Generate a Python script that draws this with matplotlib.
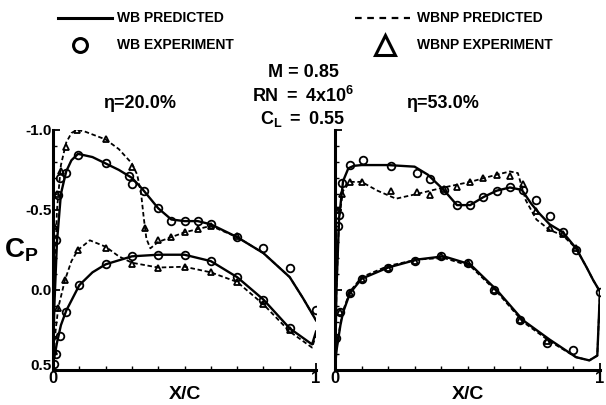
import matplotlib
matplotlib.use("Agg")
import matplotlib.pyplot as plt
from matplotlib.lines import Line2D

plt.rcParams['font.family'] = ['Liberation Sans', 'DejaVu Sans']
plt.rcParams['font.weight'] = 'bold'
plt.rcParams['mathtext.fontset'] = 'custom'
plt.rcParams['mathtext.rm'] = 'Liberation Sans:bold'
plt.rcParams['mathtext.it'] = 'Liberation Sans:bold'
plt.rcParams['mathtext.bf'] = 'Liberation Sans:bold'

# ---- eta = 20.0% ----
wb20_up_x = [0.0, 0.005, 0.015, 0.03, 0.05, 0.07, 0.095, 0.15, 0.2, 0.25, 0.3, 0.34, 0.4, 0.45, 0.5, 0.55, 0.6, 0.7, 0.8, 0.9, 0.95, 1.0]
wb20_up_cp = [0.45, 0.1, -0.3, -0.6, -0.74, -0.81, -0.85, -0.83, -0.79, -0.75, -0.70, -0.63, -0.51, -0.44, -0.43, -0.43, -0.41, -0.33, -0.23, -0.08, 0.05, 0.19]
wb20_lo_x = [0.0, 0.005, 0.015, 0.03, 0.05, 0.1, 0.15, 0.2, 0.3, 0.4, 0.5, 0.6, 0.7, 0.8, 0.9, 0.985, 1.0]
wb20_lo_cp = [0.45, 0.42, 0.33, 0.22, 0.13, -0.03, -0.11, -0.16, -0.21, -0.22, -0.22, -0.18, -0.08, 0.06, 0.24, 0.34, 0.26]

np20_up_x = [0.0, 0.005, 0.015, 0.03, 0.05, 0.07, 0.09, 0.12, 0.2, 0.25, 0.3, 0.32, 0.335, 0.345, 0.355, 0.37, 0.4, 0.45, 0.5, 0.55, 0.6, 0.7, 0.8, 0.9, 0.95, 1.0]
np20_up_cp = [0.45, 0.0, -0.5, -0.78, -0.92, -0.98, -1.0, -0.99, -0.94, -0.88, -0.79, -0.72, -0.6, -0.45, -0.32, -0.26, -0.30, -0.33, -0.36, -0.38, -0.40, -0.33, -0.23, -0.08, 0.05, 0.19]
np20_lo_x = [0.0, 0.01, 0.02, 0.045, 0.07, 0.095, 0.14, 0.2, 0.25, 0.3, 0.4, 0.5, 0.6, 0.7, 0.8, 0.9, 0.985, 1.0]
np20_lo_cp = [0.45, 0.25, 0.11, -0.06, -0.18, -0.25, -0.31, -0.27, -0.21, -0.17, -0.14, -0.145, -0.11, -0.05, 0.09, 0.26, 0.36, 0.28]

wb20_exp_x = [0.012, 0.02, 0.025, 0.05, 0.095, 0.2, 0.29, 0.30, 0.345, 0.4, 0.45, 0.5, 0.55, 0.6, 0.7, 0.8, 0.9, 1.0,
              0.005, 0.012, 0.027, 0.05, 0.1, 0.2, 0.3, 0.4, 0.5, 0.6, 0.7, 0.8, 0.9]
wb20_exp_cp = [-0.31, -0.59, -0.70, -0.73, -0.84, -0.79, -0.71, -0.66, -0.62, -0.51, -0.43, -0.43, -0.43, -0.41, -0.33, -0.26, -0.14, 0.125,
               0.46, 0.40, 0.29, 0.14, -0.03, -0.16, -0.21, -0.22, -0.22, -0.18, -0.08, 0.06, 0.24]
np20_exp_x = [0.005, 0.015, 0.03, 0.05, 0.09, 0.2, 0.3, 0.35, 0.4, 0.45, 0.5, 0.55, 0.6, 0.7,
              0.005, 0.02, 0.045, 0.095, 0.2, 0.3, 0.4, 0.5, 0.6, 0.7, 0.8, 0.9]
np20_exp_cp = [-0.4, -0.6, -0.74, -0.89, -1.0, -0.94, -0.77, -0.39, -0.31, -0.33, -0.36, -0.38, -0.40, -0.34,
               0.38, 0.11, -0.06, -0.25, -0.26, -0.16, -0.14, -0.145, -0.11, -0.05, 0.09, 0.25]

# ---- eta = 53.0% ----
wb53_up_x = [0.0, 0.005, 0.015, 0.03, 0.05, 0.07, 0.1, 0.2, 0.3, 0.35, 0.41, 0.46, 0.51, 0.56, 0.61, 0.66, 0.705, 0.74, 0.77, 0.81, 0.86, 0.91, 0.95, 0.975, 1.0]
wb53_up_cp = [0.48, 0.0, -0.45, -0.68, -0.76, -0.775, -0.78, -0.78, -0.77, -0.72, -0.625, -0.53, -0.53, -0.58, -0.62, -0.64, -0.625, -0.54, -0.48, -0.41, -0.36, -0.26, -0.14, -0.06, 0.01]
wb53_lo_x = [0.0, 0.005, 0.02, 0.03, 0.056, 0.1, 0.2, 0.31, 0.41, 0.51, 0.61, 0.71, 0.81, 0.91, 0.96, 0.99, 1.0]
wb53_lo_cp = [0.48, 0.38, 0.22, 0.14, 0.02, -0.07, -0.14, -0.19, -0.21, -0.16, 0.0, 0.19, 0.31, 0.42, 0.44, 0.41, 0.01]

np53_up_x = [0.0, 0.005, 0.015, 0.03, 0.057, 0.1, 0.16, 0.23, 0.31, 0.41, 0.51, 0.61, 0.66, 0.69, 0.72, 0.76, 0.81, 0.86, 0.91, 0.95, 0.975, 1.0]
np53_up_cp = [0.48, 0.0, -0.45, -0.62, -0.675, -0.675, -0.62, -0.57, -0.60, -0.64, -0.675, -0.72, -0.74, -0.73, -0.56, -0.44, -0.375, -0.34, -0.26, -0.14, -0.06, 0.01]
np53_lo_x = [0.0, 0.005, 0.02, 0.03, 0.056, 0.1, 0.2, 0.31, 0.41, 0.51, 0.61, 0.71, 0.81, 0.91, 0.96, 0.99, 1.0]
np53_lo_cp = [0.48, 0.37, 0.21, 0.13, 0.01, -0.08, -0.15, -0.19, -0.20, -0.15, 0.01, 0.20, 0.32, 0.42, 0.44, 0.41, 0.01]

wb53_exp_x = [0.01, 0.015, 0.025, 0.057, 0.105, 0.21, 0.31, 0.36, 0.41, 0.46, 0.51, 0.56, 0.61, 0.66, 0.71, 0.76, 0.81, 0.86, 0.91, 1.0,
              0.005, 0.02, 0.055, 0.1, 0.2, 0.3, 0.4, 0.5, 0.6, 0.7, 0.8, 0.9]
wb53_exp_cp = [-0.40, -0.47, -0.67, -0.78, -0.81, -0.775, -0.73, -0.69, -0.625, -0.53, -0.53, -0.58, -0.62, -0.64, -0.625, -0.56, -0.46, -0.36, -0.25, 0.01,
               0.3, 0.14, 0.02, -0.07, -0.14, -0.18, -0.21, -0.17, 0.0, 0.19, 0.33, 0.375]
np53_exp_x = [0.01, 0.025, 0.057, 0.1, 0.21, 0.31, 0.36, 0.41, 0.46, 0.51, 0.56, 0.61, 0.66, 0.71, 0.76, 0.81, 0.86, 0.91,
              0.005, 0.02, 0.055, 0.1, 0.2, 0.3, 0.4, 0.5, 0.6, 0.7, 0.8]
np53_exp_cp = [-0.5, -0.6, -0.675, -0.675, -0.62, -0.61, -0.59, -0.63, -0.645, -0.675, -0.70, -0.72, -0.71, -0.66, -0.49, -0.39, -0.35, -0.26,
               0.3, 0.14, 0.02, -0.07, -0.14, -0.18, -0.21, -0.17, 0.0, 0.19, 0.32]

ytick_vals = [-1.0, -0.5, 0.0, 0.5]
ytick_labels = ['-1.0', '-0.5', '0.0', '0.5']

fig = plt.figure(figsize=(6.06, 4.05), dpi=100)
ax1 = fig.add_axes([0.0875, 0.0864, 0.434, 0.593])
ax2 = fig.add_axes([0.553, 0.0864, 0.437, 0.593])

panels = [
    (ax1, wb20_up_x, wb20_up_cp, wb20_lo_x, wb20_lo_cp, np20_up_x, np20_up_cp, np20_lo_x, np20_lo_cp,
     wb20_exp_x, wb20_exp_cp, np20_exp_x, np20_exp_cp),
    (ax2, wb53_up_x, wb53_up_cp, wb53_lo_x, wb53_lo_cp, np53_up_x, np53_up_cp, np53_lo_x, np53_lo_cp,
     wb53_exp_x, wb53_exp_cp, np53_exp_x, np53_exp_cp),
]

for (ax, wux, wuc, wlx, wlc, nux, nuc, nlx, nlc, wex, wec, nex, nec) in panels:
    ax.plot(nux, nuc, color='black', lw=1.3, ls=(0, (2.5, 1.5)))
    ax.plot(nlx, nlc, color='black', lw=1.3, ls=(0, (2.5, 1.5)))
    ax.plot(wux, wuc, color='black', lw=1.7)
    ax.plot(wlx, wlc, color='black', lw=1.7)
    ax.plot(wex, wec, ls='none', marker='o', ms=5.5, mfc='none', mec='black', mew=1.3)
    ax.plot(nex, nec, ls='none', marker='^', ms=5, mfc='none', mec='black', mew=1.3)

    ax.set_xlim(0, 1)
    ax.set_ylim(0.5, -1.0)
    ax.spines['top'].set_visible(False)
    ax.spines['right'].set_visible(False)
    ax.spines['left'].set_linewidth(2.2)
    ax.spines['bottom'].set_linewidth(2.2)
    ax.set_xticks([0, 1])
    ax.set_xticklabels(['0', '1'], fontsize=12)
    ax.set_xticks([i / 10 for i in range(1, 10)], minor=True)
    ax.set_yticks(ytick_vals)
    ax.set_yticks([-1.0 + i / 10 for i in range(16)], minor=True)
    ax.tick_params(which='major', direction='in', length=5, width=1.3, pad=1)
    ax.tick_params(which='minor', direction='in', length=3, width=1)
    ax.set_xlabel('X/C', fontsize=14, labelpad=0, fontweight='bold')

ax1.set_yticklabels(ytick_labels, fontsize=11)
# bottom label sits a little higher, as in the original
ax1.get_yticklabels()[-1].set_verticalalignment('baseline')
ax2.set_yticklabels([])
ax1.text(-0.12, 0.5, r'$\mathrm{C_P}$', transform=ax1.transAxes, fontsize=20, ha='center', va='center')

# header legend
fig.add_artist(Line2D([0.096, 0.185], [0.955, 0.955], color='black', lw=2.2))
fig.add_artist(Line2D([0.586, 0.677], [0.955, 0.955], color='black', lw=1.6, ls=(0, (3, 2.5))))
fig.add_artist(Line2D([0.132], [0.89], marker='o', ms=10, mfc='none', mec='black', mew=2.2))
fig.add_artist(Line2D([0.635], [0.89], marker='^', ms=14, mfc='none', mec='black', mew=2.2))
fig.text(0.193, 0.955, 'WB PREDICTED', fontsize=10, fontweight='bold', va='center')
fig.text(0.688, 0.955, 'WBNP PREDICTED', fontsize=10, fontweight='bold', va='center')
fig.text(0.193, 0.89, 'WB EXPERIMENT', fontsize=10, fontweight='bold', va='center')
fig.text(0.688, 0.89, 'WBNP EXPERIMENT', fontsize=10, fontweight='bold', va='center')

fig.text(0.5, 0.82, 'M = 0.85', fontsize=13, ha='center', va='center')
fig.text(0.5, 0.763, r'$\mathrm{RN\ =\ 4x10^6}$', fontsize=13, ha='center', va='center')
fig.text(0.5, 0.705, r'$\mathrm{C_L\ =\ 0.55}$', fontsize=13, ha='center', va='center')
fig.text(0.23, 0.745, 'η=20.0%', fontsize=13, ha='center', va='center')
fig.text(0.73, 0.745, 'η=53.0%', fontsize=13, ha='center', va='center')

fig.savefig('out.png', dpi=100)
